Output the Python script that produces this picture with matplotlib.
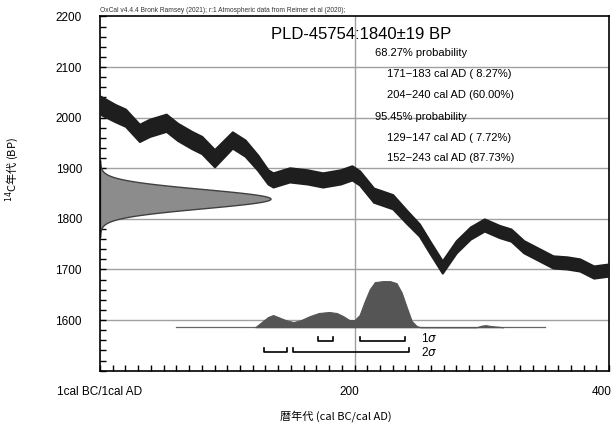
import matplotlib
matplotlib.use("Agg")
import matplotlib.pyplot as plt
import matplotlib.transforms as mtransforms
import numpy as np

# calibration curve (cal AD, 14C BP centre, half width)
curve_year = [0, 12, 20, 31, 39, 52, 61, 72, 80, 90, 104, 114, 124, 132, 136, 149, 163, 175, 189,
              198, 204, 215, 230, 241, 251, 259, 269, 280, 291, 302, 314, 323, 333, 343, 356, 367,
              377, 388, 400]
curve_bp = [2025, 2009, 2000, 1970, 1980, 1990, 1972, 1956, 1946, 1920, 1956, 1940, 1911, 1883, 1877,
            1887, 1883, 1877, 1883, 1891, 1881, 1847, 1834, 1804, 1778, 1745, 1705, 1745, 1772, 1788,
            1775, 1768, 1745, 1732, 1715, 1713, 1709, 1695, 1699]
curve_err = [18, 17, 17, 17, 17, 17, 17, 17, 17, 17, 16, 16, 15, 14, 14, 14, 14, 14, 14,
             14, 14, 14, 14, 13, 12, 12, 12, 12, 12, 12, 12, 12, 12, 12, 12, 12, 12, 12, 12]

# measured date
date_mean = 1840
date_sd = 19
date_peak = 134  # drawn width in years

# calibrated distribution (height above baseline, BP units)
post_year = [122, 127, 132, 136, 140, 146, 152, 158, 165, 172, 180, 186, 191, 196, 200, 204, 208,
             212, 216, 222, 228, 233, 237, 241, 245, 249, 252, 296, 300, 303, 308, 317]
post_h = [0, 10, 20, 24, 20, 14, 10, 14, 22, 28, 30, 28, 22, 14, 14, 24, 51,
          75, 89, 91, 91, 87, 69, 40, 12, 2, 0, 0, 3, 4, 2, 0]
post_base = 1586
post_span = [60, 350]

sigma1 = [(171, 183), (204, 240)]
sigma2 = [(129, 147), (152, 243)]

title = "PLD-45754:1840\u00b119 BP"
info_lines = ["68.27% probability", "171\u2212183 cal AD ( 8.27%)", "204\u2212240 cal AD (60.00%)",
              "95.45% probability", "129\u2212147 cal AD ( 7.72%)", "152\u2212243 cal AD (87.73%)"]
info_y = [2128, 2086, 2045, 2001, 1960, 1920]
info_indent = [False, True, True, False, True, True]

plt.rcParams["font.family"] = ["Liberation Sans", "DejaVu Sans"]

fig = plt.figure(figsize=(6.15, 4.23), dpi=100)
ax = fig.add_axes([100 / 615, 1 - 370.7 / 423, 509 / 615, 354.2 / 423])
ax.set_xlim(0, 400)
ax.set_ylim(1500, 2200)

for bp in [1600, 1700, 1800, 1900, 2000, 2100]:
    ax.axhline(bp, color="#a0a0a0", lw=1, zorder=1)
ax.axvline(200, color="#a0a0a0", lw=1, zorder=1)

# measured date on y axis
yy = np.linspace(date_mean - 4 * date_sd, date_mean + 4 * date_sd, 300)
xx = date_peak * np.exp(-0.5 * ((yy - date_mean) / date_sd) ** 2)
ax.fill_betweenx(yy, 0, xx, facecolor="#8c8c8c", edgecolor="#404040", lw=1, zorder=2)

# calibration curve
cb = np.array(curve_bp)
ce = np.array(curve_err)
ax.fill_between(curve_year, cb - ce, cb + ce, facecolor="#1e1e1e", edgecolor="#1e1e1e", lw=1.5, zorder=3)

# calibrated distribution
ax.plot(post_span, [post_base, post_base], color="#666666", lw=0.9, zorder=2)
ax.fill_between(post_year, post_base, post_base + np.array(post_h), facecolor="#555555",
                edgecolor="#555555", lw=0.8, zorder=3)

# sigma ranges
for (a, b) in sigma1:
    ax.plot([a, a, b, b], [1567, 1559, 1559, 1567], color="black", lw=1.2, zorder=4)
for (a, b) in sigma2:
    ax.plot([a, a, b, b], [1545, 1537, 1537, 1545], color="black", lw=1.2, zorder=4)
ax.text(252, 1564, "1$\\it{\\sigma}$", fontsize=8.5, va="center", ha="left")
ax.text(252, 1536, "2$\\it{\\sigma}$", fontsize=8.5, va="center", ha="left")

ax.text(134, 2165, title, fontsize=12, va="center", ha="left")
for s, y, ind in zip(info_lines, info_y, info_indent):
    ax.text(225.5 if ind else 216, y, s, fontsize=8, va="center", ha="left")

ax.set_yticks(np.arange(1600, 2201, 100))
ax.set_yticks(np.arange(1500, 2201, 20), minor=True)
ax.set_xticks([0, 200, 400])
ax.set_xticklabels(["1cal BC/1cal AD", "200", "400"])
ax.set_xticks(np.arange(0, 401, 10), minor=True)
ax.tick_params(axis="both", which="both", direction="in", length=4, width=1, labelsize=8.5)
ax.tick_params(axis="x", pad=11)
ax.tick_params(axis="y", pad=13)
for sp in ax.spines.values():
    sp.set_linewidth(1.2)

# keep the last x label inside the figure
last = ax.get_xticklabels()[-1]
last.set_horizontalalignment("right")
last.set_transform(last.get_transform() + mtransforms.ScaledTranslation(3 / 100, 0, fig.dpi_scale_trans))
first = ax.get_xticklabels()[1]
first.set_transform(first.get_transform() + mtransforms.ScaledTranslation(-5 / 100, 0, fig.dpi_scale_trans))

fig.text(100 / 615, 1 - 12 / 423,
         "OxCal v4.4.4 Bronk Ramsey (2021); r:1 Atmospheric data from Reimer et al (2020);",
         fontsize=4.8, ha="left", va="baseline", color="#333333")
fig.text(12 / 615, 1 - 170 / 423, "$^{14}$C年代 (BP)", rotation=90, fontsize=8,
         ha="center", va="center", family=["Noto Sans CJK JP", "DejaVu Sans"])
fig.text(336 / 615, 1 - 416 / 423, "暦年代 (cal BC/cal AD)", fontsize=8,
         ha="center", va="center", family=["Noto Sans CJK JP", "DejaVu Sans"])

fig.savefig("out.png", dpi=100)
